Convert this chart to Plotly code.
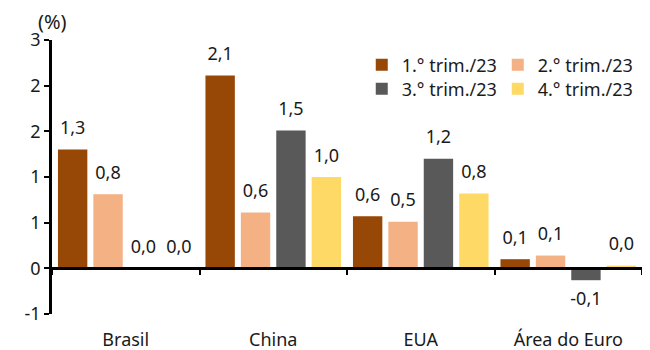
import plotly.graph_objects as go

categories = ["Brasil", "China", "EUA", "Área do Euro"]
series_names = ["1.° trim./23", "2.° trim./23", "3.° trim./23", "4.° trim./23"]
q1 = [1.30, 2.11, 0.57, 0.10]
q2 = [0.81, 0.61, 0.51, 0.14]
q3 = [0.00, 1.51, 1.20, -0.13]
q4 = [0.00, 1.00, 0.82, 0.03]
colors = ["#974706", "#F4B183", "#595959", "#FFD966"]
y_tickvals = [-0.5, 0, 0.5, 1.0, 1.5, 2.0, 2.5]
y_ticktext = ["-1", "0", "1", "1", "2", "2", "3"]

FONT = "Noto Sans"
FS = 18
fig = go.Figure()
legends = ["legend", "legend", "legend2", "legend2"]
for i, (name, vals, col, lg) in enumerate(zip(series_names, [q1, q2, q3, q4], colors, legends)):
    fig.add_trace(go.Bar(
        x=categories, y=vals, name=name, marker_color=col, marker_line_width=0,
        offsetgroup=str(i), legend=lg,
    ))
for i, vals in enumerate([q1, q2, q3, q4]):
    fig.add_trace(go.Scatter(
        x=categories, y=vals, mode="markers+text", offsetgroup=str(i),
        marker=dict(size=16, opacity=0), texttemplate="%{y:.1f}",
        textposition=["bottom center" if v < 0 else "top center" for v in vals],
        textfont=dict(size=FS, color="#1a1a1a", family=FONT),
        cliponaxis=False, showlegend=False, hoverinfo="skip",
    ))

# boundary axis drawn at y=0 (invisible trace to host it)
fig.add_trace(go.Scatter(x=[-0.5, 3.5], y=[0, 0], xaxis="x2", mode="lines",
                         line=dict(width=0), showlegend=False, hoverinfo="skip"))

fig.update_layout(
    template="none",
    width=642, height=342,
    margin=dict(l=44, r=8, t=32, b=36, autoexpand=False),
    paper_bgcolor="white", plot_bgcolor="white",
    barmode="group", bargap=0.04, bargroupgap=0.17,
    scattermode="group", scattergap=0.04,
    separators=", ",
    font=dict(family=FONT, size=FS, color="#1a1a1a"),
    xaxis=dict(showline=False, ticks="", showgrid=False, tickfont=dict(size=FS),
               range=[-0.5, 3.5], automargin=False, ticklabelstandoff=13),
    xaxis2=dict(overlaying="x", anchor="free", position=1/6, range=[-0.5, 3.5],
                showline=True, linecolor="black", linewidth=2.5,
                tickvals=[-0.5, 0.5, 1.5, 2.5, 3.5], ticks="outside", ticklen=5,
                tickwidth=2, tickcolor="black", showticklabels=False, showgrid=False,
                zeroline=False, automargin=False),
    yaxis=dict(range=[-0.5, 2.5], tickvals=y_tickvals, ticktext=y_ticktext,
               showline=True, linecolor="black", linewidth=2.5, ticks="outside",
               ticklen=5, tickwidth=2, tickcolor="black", showgrid=False,
               zeroline=False, tickfont=dict(size=FS), automargin=False),
    legend=dict(orientation="h", x=0.525, y=0.909, xanchor="left", yanchor="middle",
                font=dict(size=FS), itemwidth=30, entrywidth=91, entrywidthmode="pixels",
                bgcolor="rgba(0,0,0,0)", tracegroupgap=0),
    legend2=dict(orientation="h", x=0.525, y=0.821, xanchor="left", yanchor="middle",
                 font=dict(size=FS), itemwidth=30, entrywidth=91, entrywidthmode="pixels",
                 bgcolor="rgba(0,0,0,0)", tracegroupgap=0),
    annotations=[dict(text="(%)", x=0, y=1, xref="paper", yref="paper",
                      xanchor="center", yanchor="bottom", yshift=3, showarrow=False,
                      font=dict(size=20))],
)

fig.write_html("out.html")
